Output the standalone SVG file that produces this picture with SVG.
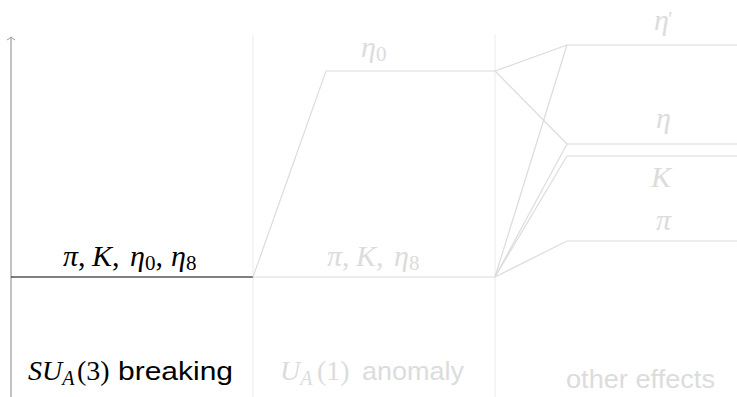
<svg xmlns="http://www.w3.org/2000/svg" width="737" height="397" viewBox="0 0 737 397">
<defs>
<style>
.div{stroke:#efefef;stroke-width:1.2;fill:none}
.ln{stroke:#dcdcdc;stroke-width:1.2;fill:none}
.m{font-family:"Liberation Serif","DejaVu Serif",serif;font-style:italic}
.r{font-family:"Liberation Serif","DejaVu Serif",serif;font-style:normal}
.s{font-family:"Liberation Sans","DejaVu Sans",sans-serif}
.g{fill:#dcdcdc}
.k{fill:#000}
</style>
<marker id="ah" markerWidth="10" markerHeight="10" refX="5" refY="1" orient="0" markerUnits="userSpaceOnUse">
<path d="M1,4 Q3.5,2.5 5,1 Q6.5,2.5 9,4" stroke="#999" stroke-width="1" fill="none"/>
</marker>
</defs>
<rect width="737" height="397" fill="#fff"/>
<g id="dividers">
<line class="div" x1="253" y1="35" x2="253" y2="397"/>
<line class="div" x1="495" y1="35" x2="495" y2="397"/>
</g>
<g id="axis">
<line x1="11" y1="397" x2="11" y2="37" stroke="#aaa" stroke-width="1.4" marker-end="url(#ah)"/>
</g>
<g id="connectors">
<line x1="11" y1="277" x2="253" y2="277" stroke="#000" stroke-width="1.2"/>
<line class="ln" x1="253" y1="277" x2="495" y2="277"/>
<polyline class="ln" points="253,277 326,71 495,71"/>
<line class="ln" x1="495" y1="71" x2="567" y2="45"/>
<line class="ln" x1="495" y1="71" x2="567" y2="144"/>
<line class="ln" x1="495" y1="277" x2="567" y2="45"/>
<line class="ln" x1="495" y1="277" x2="567" y2="144"/>
<line class="ln" x1="495" y1="277" x2="567" y2="156"/>
<line class="ln" x1="495" y1="277" x2="567" y2="241"/>
<line class="ln" x1="567" y1="45" x2="737" y2="45"/>
<line class="ln" x1="567" y1="144" x2="737" y2="144"/>
<line class="ln" x1="567" y1="156" x2="737" y2="156"/>
<line class="ln" x1="567" y1="241" x2="737" y2="241"/>
</g>
<g id="level-su3" font-size="30">
<text class="k" y="266"><tspan class="m" x="63">π</tspan><tspan class="r">,</tspan><tspan class="m" x="92">K</tspan><tspan class="r">,</tspan><tspan class="m" x="130">η</tspan><tspan class="r" font-size="21" dy="4">0</tspan><tspan class="r" dy="-4">,</tspan><tspan class="m" x="171">η</tspan><tspan class="r" font-size="21" dy="4">8</tspan></text>
</g>
<g id="level-ua1" font-size="30">
<text class="g" y="266"><tspan class="m" x="327">π</tspan><tspan class="r">,</tspan><tspan class="m" x="356">K</tspan><tspan class="r">,</tspan><tspan class="m" x="394">η</tspan><tspan class="r" font-size="21" dy="4">8</tspan></text>
<text class="g" y="57"><tspan class="m" x="361">η</tspan><tspan class="r" font-size="21" dy="4">0</tspan></text>
</g>
<g id="level-other" font-size="30">
<text class="g m" x="654" y="30">η<tspan class="r" font-size="22" dx="-1" dy="-4">′</tspan></text>
<text class="g m" x="656" y="128">η</text>
<text class="g m" x="651" y="187">K</text>
<text class="g m" x="656" y="230">π</text>
</g>
<g id="labels">
<text class="k" y="380" font-size="28"><tspan class="m" x="28">SU</tspan><tspan class="m" font-size="20" dy="5">A</tspan><tspan class="r" dy="-5" x="77">(3)</tspan><tspan class="s" x="118" font-size="25" textLength="115" lengthAdjust="spacingAndGlyphs">breaking</tspan></text>
<text class="g" y="380" font-size="28"><tspan class="m" x="280">U</tspan><tspan class="m" font-size="20" dy="5">A</tspan><tspan class="r" dy="-5" x="317">(1)</tspan><tspan class="s" x="362" font-size="25" textLength="102" lengthAdjust="spacingAndGlyphs">anomaly</tspan></text>
<text class="g s" x="566" y="388" font-size="25" textLength="149" lengthAdjust="spacingAndGlyphs">other effects</text>
</g>
</svg>
